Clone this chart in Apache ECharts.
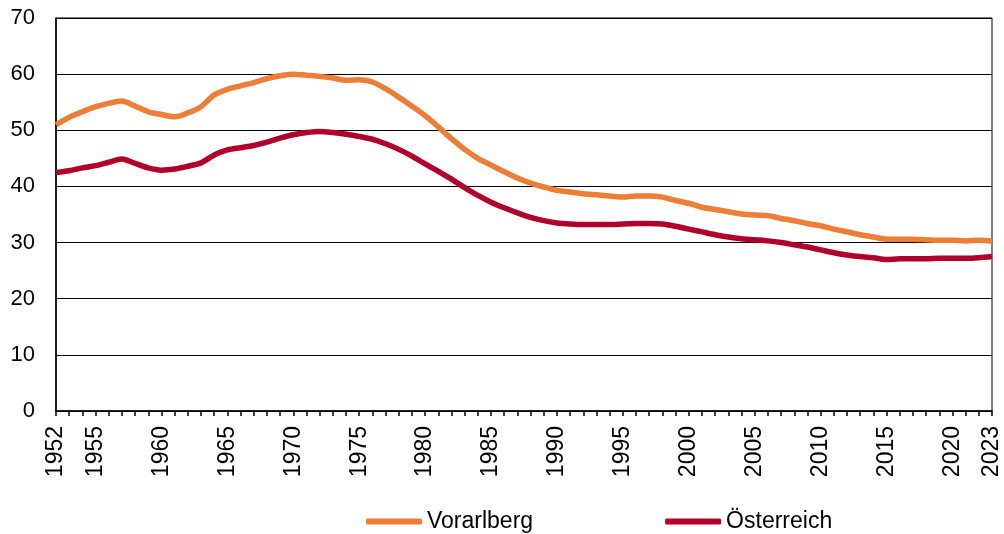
<!DOCTYPE html>
<html>
<head>
<meta charset="utf-8">
<script src="https://cdn.jsdelivr.net/npm/echarts@6/dist/echarts.min.js"></script>
<style>
  html, body { margin: 0; padding: 0; background: #fff; }
  #chart { width: 1004px; height: 534px; }
</style>
</head>
<body>
<div id="chart"></div>
<script>
var years = []
for (var y = 1952; y <= 2023; y++) years.push(String(y))

// Anteil in %, 1952-2023
var vorarlberg = [
  51.0, 52.3, 53.3, 54.2, 54.8, 55.2, 54.3, 53.3, 52.8, 52.4,
  53.1, 54.2, 56.3, 57.3, 57.9, 58.5, 59.2, 59.7, 60.0, 59.8,
  59.6, 59.3, 58.9, 59.0, 58.6, 57.4, 55.9, 54.3, 52.6, 50.6,
  48.5, 46.6, 45.0, 43.8, 42.6, 41.5, 40.6, 39.9, 39.3, 39.0,
  38.7, 38.5, 38.3, 38.1, 38.3, 38.3, 38.1, 37.5, 37.0, 36.3,
  35.9, 35.5, 35.1, 34.9, 34.8, 34.3, 33.9, 33.4, 33.0, 32.4,
  31.9, 31.4, 31.0, 30.6, 30.6, 30.6, 30.5, 30.4, 30.4, 30.3,
  30.4, 30.3
]
var oesterreich = [
  42.5, 42.8, 43.3, 43.7, 44.3, 44.9, 44.1, 43.3, 42.9, 43.1,
  43.6, 44.2, 45.6, 46.5, 46.9, 47.3, 47.9, 48.6, 49.2, 49.6,
  49.8, 49.6, 49.3, 48.9, 48.4, 47.6, 46.6, 45.4, 44.0, 42.7,
  41.3, 39.8, 38.4, 37.2, 36.2, 35.3, 34.5, 33.9, 33.5, 33.3,
  33.2, 33.2, 33.2, 33.3, 33.4, 33.4, 33.3, 32.9, 32.4, 31.9,
  31.4, 31.0, 30.7, 30.5, 30.3, 30.0, 29.6, 29.2, 28.7, 28.2,
  27.8, 27.5, 27.3, 27.0, 27.1, 27.1, 27.1, 27.2, 27.2, 27.2,
  27.3, 27.5
]
var xLabels = ['1952', '1955', '1960', '1965', '1970', '1975', '1980', '1985',
  '1990', '1995', '2000', '2005', '2010', '2015', '2020', '2023']

var font = 'Liberation Sans, Arial, sans-serif'
var chart = echarts.init(document.getElementById('chart'))
chart.setOption({
  animation: false,
  grid: { left: 56, right: 12, top: 18, bottom: 123, show: true, borderColor: '#000', borderWidth: 1 },
  legend: {
    top: 505, left: 361, itemWidth: 56, itemHeight: 6, itemGap: 132,
    icon: 'roundRect',
    textStyle: { fontFamily: font, fontSize: 23, color: '#000', padding: [0, 0, 0, 0] },
    data: ['Vorarlberg', 'Österreich']
  },
  xAxis: {
    type: 'category', data: years, boundaryGap: false,
    axisLine: { lineStyle: { color: '#000', width: 1.5 } },
    axisTick: { interval: 0, length: 5, lineStyle: { color: '#000', width: 1.5 } },
    axisLabel: {
      rotate: 90, margin: 15, fontFamily: font, fontSize: 23, color: '#000',
      interval: function (i, v) { return xLabels.indexOf(v) >= 0 }
    }
  },
  yAxis: {
    type: 'value', min: 0, max: 70, interval: 10,
    axisLine: { show: true, lineStyle: { color: '#000', width: 1.5 } },
    axisTick: { show: false },
    splitLine: { lineStyle: { color: '#000', width: 1 } },
    axisLabel: { margin: 21, fontFamily: font, fontSize: 22, color: '#000' }
  },
  series: [
    { name: 'Vorarlberg', type: 'line', data: vorarlberg, showSymbol: false, smooth: 0.3,
      lineStyle: { color: '#EE7D35', width: 5.5 }, itemStyle: { color: '#EE7D35' } },
    { name: 'Österreich', type: 'line', data: oesterreich, showSymbol: false, smooth: 0.3,
      lineStyle: { color: '#B2002C', width: 5.5 }, itemStyle: { color: '#B2002C' } }
  ]
})
</script>
</body>
</html>
